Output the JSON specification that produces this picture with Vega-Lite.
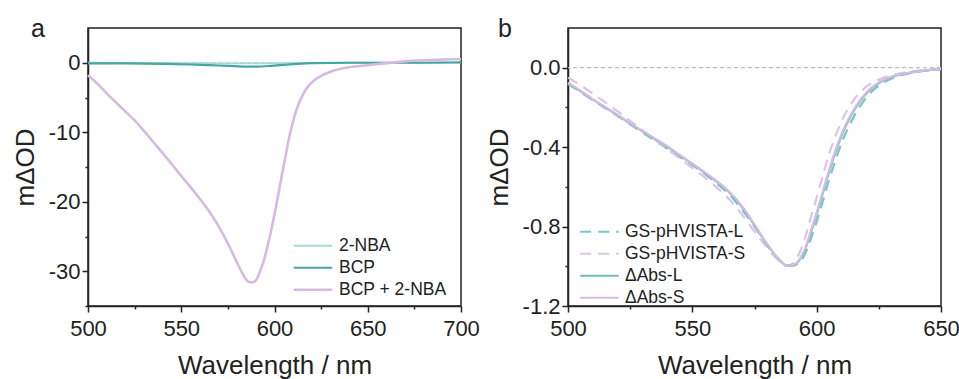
{
  "$schema": "https://vega.github.io/schema/vega-lite/v6.json",
  "background": "white",
  "padding": {"top": 16, "left": 11, "right": 0, "bottom": 0},
  "spacing": 107,
  "bounds": "flush",
  "resolve": {
    "scale": {"color": "independent", "strokeDash": "independent", "strokeWidth": "independent", "x": "independent", "y": "independent"},
    "legend": {"color": "independent", "strokeDash": "independent", "strokeWidth": "independent"}
  },
  "datasets": {
    "a": [
      {"series": "2-NBA", "wl": 500, "v": 0.0},
      {"series": "2-NBA", "wl": 530, "v": -0.02},
      {"series": "2-NBA", "wl": 550, "v": -0.05},
      {"series": "2-NBA", "wl": 570, "v": -0.1},
      {"series": "2-NBA", "wl": 590, "v": -0.1},
      {"series": "2-NBA", "wl": 610, "v": -0.05},
      {"series": "2-NBA", "wl": 640, "v": 0.0},
      {"series": "2-NBA", "wl": 670, "v": 0.02},
      {"series": "2-NBA", "wl": 700, "v": 0.05},
      {"series": "BCP", "wl": 500, "v": -0.1},
      {"series": "BCP", "wl": 520, "v": -0.1},
      {"series": "BCP", "wl": 540, "v": -0.15},
      {"series": "BCP", "wl": 555, "v": -0.25},
      {"series": "BCP", "wl": 565, "v": -0.35},
      {"series": "BCP", "wl": 575, "v": -0.45},
      {"series": "BCP", "wl": 585, "v": -0.55},
      {"series": "BCP", "wl": 590, "v": -0.55},
      {"series": "BCP", "wl": 598, "v": -0.45},
      {"series": "BCP", "wl": 605, "v": -0.3},
      {"series": "BCP", "wl": 612, "v": -0.15},
      {"series": "BCP", "wl": 620, "v": -0.05},
      {"series": "BCP", "wl": 640, "v": 0.0},
      {"series": "BCP", "wl": 660, "v": 0.0},
      {"series": "BCP", "wl": 680, "v": 0.0},
      {"series": "BCP", "wl": 700, "v": 0.05},
      {"series": "BCP + 2-NBA", "wl": 500, "v": -1.8},
      {"series": "BCP + 2-NBA", "wl": 505, "v": -3.0},
      {"series": "BCP + 2-NBA", "wl": 510, "v": -4.4},
      {"series": "BCP + 2-NBA", "wl": 515, "v": -5.7},
      {"series": "BCP + 2-NBA", "wl": 520, "v": -7.0},
      {"series": "BCP + 2-NBA", "wl": 525, "v": -8.3},
      {"series": "BCP + 2-NBA", "wl": 530, "v": -9.8},
      {"series": "BCP + 2-NBA", "wl": 535, "v": -11.4},
      {"series": "BCP + 2-NBA", "wl": 540, "v": -13.0},
      {"series": "BCP + 2-NBA", "wl": 545, "v": -14.6},
      {"series": "BCP + 2-NBA", "wl": 550, "v": -16.3},
      {"series": "BCP + 2-NBA", "wl": 555, "v": -17.9},
      {"series": "BCP + 2-NBA", "wl": 560, "v": -19.6},
      {"series": "BCP + 2-NBA", "wl": 565, "v": -21.4},
      {"series": "BCP + 2-NBA", "wl": 570, "v": -23.5},
      {"series": "BCP + 2-NBA", "wl": 575, "v": -26.0},
      {"series": "BCP + 2-NBA", "wl": 580, "v": -28.8},
      {"series": "BCP + 2-NBA", "wl": 583, "v": -30.4},
      {"series": "BCP + 2-NBA", "wl": 586, "v": -31.5},
      {"series": "BCP + 2-NBA", "wl": 588, "v": -31.6},
      {"series": "BCP + 2-NBA", "wl": 590, "v": -31.3},
      {"series": "BCP + 2-NBA", "wl": 592, "v": -30.2},
      {"series": "BCP + 2-NBA", "wl": 594, "v": -28.7},
      {"series": "BCP + 2-NBA", "wl": 596, "v": -26.7},
      {"series": "BCP + 2-NBA", "wl": 598, "v": -24.4},
      {"series": "BCP + 2-NBA", "wl": 600, "v": -21.8},
      {"series": "BCP + 2-NBA", "wl": 602, "v": -19.0},
      {"series": "BCP + 2-NBA", "wl": 604, "v": -16.1},
      {"series": "BCP + 2-NBA", "wl": 606, "v": -13.3},
      {"series": "BCP + 2-NBA", "wl": 608, "v": -10.6},
      {"series": "BCP + 2-NBA", "wl": 610, "v": -8.4},
      {"series": "BCP + 2-NBA", "wl": 612, "v": -6.6},
      {"series": "BCP + 2-NBA", "wl": 615, "v": -4.7},
      {"series": "BCP + 2-NBA", "wl": 618, "v": -3.4},
      {"series": "BCP + 2-NBA", "wl": 621, "v": -2.6},
      {"series": "BCP + 2-NBA", "wl": 625, "v": -1.9},
      {"series": "BCP + 2-NBA", "wl": 630, "v": -1.3},
      {"series": "BCP + 2-NBA", "wl": 635, "v": -0.9},
      {"series": "BCP + 2-NBA", "wl": 640, "v": -0.65},
      {"series": "BCP + 2-NBA", "wl": 650, "v": -0.35},
      {"series": "BCP + 2-NBA", "wl": 660, "v": -0.05},
      {"series": "BCP + 2-NBA", "wl": 670, "v": 0.2},
      {"series": "BCP + 2-NBA", "wl": 680, "v": 0.35},
      {"series": "BCP + 2-NBA", "wl": 690, "v": 0.45},
      {"series": "BCP + 2-NBA", "wl": 700, "v": 0.55}
    ],
    "b": [
      {"series": "GS-pHVISTA-L", "wl": 500, "v": -0.082},
      {"series": "GS-pHVISTA-L", "wl": 505, "v": -0.122},
      {"series": "GS-pHVISTA-L", "wl": 510, "v": -0.163},
      {"series": "GS-pHVISTA-L", "wl": 515, "v": -0.203},
      {"series": "GS-pHVISTA-L", "wl": 520, "v": -0.243},
      {"series": "GS-pHVISTA-L", "wl": 525, "v": -0.285},
      {"series": "GS-pHVISTA-L", "wl": 530, "v": -0.327},
      {"series": "GS-pHVISTA-L", "wl": 535, "v": -0.368},
      {"series": "GS-pHVISTA-L", "wl": 540, "v": -0.408},
      {"series": "GS-pHVISTA-L", "wl": 545, "v": -0.45},
      {"series": "GS-pHVISTA-L", "wl": 550, "v": -0.49},
      {"series": "GS-pHVISTA-L", "wl": 555, "v": -0.535},
      {"series": "GS-pHVISTA-L", "wl": 560, "v": -0.585},
      {"series": "GS-pHVISTA-L", "wl": 565, "v": -0.64},
      {"series": "GS-pHVISTA-L", "wl": 570, "v": -0.715},
      {"series": "GS-pHVISTA-L", "wl": 575, "v": -0.8},
      {"series": "GS-pHVISTA-L", "wl": 580, "v": -0.895},
      {"series": "GS-pHVISTA-L", "wl": 585, "v": -0.97},
      {"series": "GS-pHVISTA-L", "wl": 588, "v": -0.997},
      {"series": "GS-pHVISTA-L", "wl": 590, "v": -0.997},
      {"series": "GS-pHVISTA-L", "wl": 592, "v": -0.99},
      {"series": "GS-pHVISTA-L", "wl": 595, "v": -0.945},
      {"series": "GS-pHVISTA-L", "wl": 598, "v": -0.85},
      {"series": "GS-pHVISTA-L", "wl": 600, "v": -0.775},
      {"series": "GS-pHVISTA-L", "wl": 603, "v": -0.65},
      {"series": "GS-pHVISTA-L", "wl": 605, "v": -0.565},
      {"series": "GS-pHVISTA-L", "wl": 608, "v": -0.45},
      {"series": "GS-pHVISTA-L", "wl": 610, "v": -0.38},
      {"series": "GS-pHVISTA-L", "wl": 615, "v": -0.245},
      {"series": "GS-pHVISTA-L", "wl": 620, "v": -0.15},
      {"series": "GS-pHVISTA-L", "wl": 625, "v": -0.09},
      {"series": "GS-pHVISTA-L", "wl": 630, "v": -0.055},
      {"series": "GS-pHVISTA-L", "wl": 635, "v": -0.035},
      {"series": "GS-pHVISTA-L", "wl": 640, "v": -0.022},
      {"series": "GS-pHVISTA-L", "wl": 645, "v": -0.013},
      {"series": "GS-pHVISTA-L", "wl": 650, "v": -0.008},
      {"series": "GS-pHVISTA-S", "wl": 500, "v": -0.05},
      {"series": "GS-pHVISTA-S", "wl": 505, "v": -0.088},
      {"series": "GS-pHVISTA-S", "wl": 510, "v": -0.13},
      {"series": "GS-pHVISTA-S", "wl": 515, "v": -0.175},
      {"series": "GS-pHVISTA-S", "wl": 520, "v": -0.22},
      {"series": "GS-pHVISTA-S", "wl": 525, "v": -0.268},
      {"series": "GS-pHVISTA-S", "wl": 530, "v": -0.315},
      {"series": "GS-pHVISTA-S", "wl": 535, "v": -0.362},
      {"series": "GS-pHVISTA-S", "wl": 540, "v": -0.41},
      {"series": "GS-pHVISTA-S", "wl": 545, "v": -0.458},
      {"series": "GS-pHVISTA-S", "wl": 550, "v": -0.505},
      {"series": "GS-pHVISTA-S", "wl": 555, "v": -0.552},
      {"series": "GS-pHVISTA-S", "wl": 560, "v": -0.605},
      {"series": "GS-pHVISTA-S", "wl": 565, "v": -0.665},
      {"series": "GS-pHVISTA-S", "wl": 570, "v": -0.74},
      {"series": "GS-pHVISTA-S", "wl": 575, "v": -0.825},
      {"series": "GS-pHVISTA-S", "wl": 580, "v": -0.905},
      {"series": "GS-pHVISTA-S", "wl": 585, "v": -0.975},
      {"series": "GS-pHVISTA-S", "wl": 588, "v": -0.998},
      {"series": "GS-pHVISTA-S", "wl": 590, "v": -0.99},
      {"series": "GS-pHVISTA-S", "wl": 592, "v": -0.96},
      {"series": "GS-pHVISTA-S", "wl": 595, "v": -0.87},
      {"series": "GS-pHVISTA-S", "wl": 598, "v": -0.74},
      {"series": "GS-pHVISTA-S", "wl": 600, "v": -0.655},
      {"series": "GS-pHVISTA-S", "wl": 603, "v": -0.52},
      {"series": "GS-pHVISTA-S", "wl": 605, "v": -0.435},
      {"series": "GS-pHVISTA-S", "wl": 608, "v": -0.33},
      {"series": "GS-pHVISTA-S", "wl": 610, "v": -0.27},
      {"series": "GS-pHVISTA-S", "wl": 615, "v": -0.16},
      {"series": "GS-pHVISTA-S", "wl": 620, "v": -0.095},
      {"series": "GS-pHVISTA-S", "wl": 625, "v": -0.06},
      {"series": "GS-pHVISTA-S", "wl": 630, "v": -0.038},
      {"series": "GS-pHVISTA-S", "wl": 635, "v": -0.025},
      {"series": "GS-pHVISTA-S", "wl": 640, "v": -0.016},
      {"series": "GS-pHVISTA-S", "wl": 645, "v": -0.01},
      {"series": "GS-pHVISTA-S", "wl": 650, "v": -0.006},
      {"series": "ΔAbs-L", "wl": 500, "v": -0.078},
      {"series": "ΔAbs-L", "wl": 505, "v": -0.118},
      {"series": "ΔAbs-L", "wl": 510, "v": -0.16},
      {"series": "ΔAbs-L", "wl": 515, "v": -0.2},
      {"series": "ΔAbs-L", "wl": 520, "v": -0.24},
      {"series": "ΔAbs-L", "wl": 525, "v": -0.281},
      {"series": "ΔAbs-L", "wl": 530, "v": -0.321},
      {"series": "ΔAbs-L", "wl": 535, "v": -0.36},
      {"series": "ΔAbs-L", "wl": 540, "v": -0.399},
      {"series": "ΔAbs-L", "wl": 545, "v": -0.442},
      {"series": "ΔAbs-L", "wl": 550, "v": -0.485},
      {"series": "ΔAbs-L", "wl": 555, "v": -0.53},
      {"series": "ΔAbs-L", "wl": 560, "v": -0.576},
      {"series": "ΔAbs-L", "wl": 565, "v": -0.63},
      {"series": "ΔAbs-L", "wl": 570, "v": -0.702},
      {"series": "ΔAbs-L", "wl": 575, "v": -0.793},
      {"series": "ΔAbs-L", "wl": 580, "v": -0.888},
      {"series": "ΔAbs-L", "wl": 585, "v": -0.967},
      {"series": "ΔAbs-L", "wl": 588, "v": -0.996},
      {"series": "ΔAbs-L", "wl": 590, "v": -0.996},
      {"series": "ΔAbs-L", "wl": 592, "v": -0.984},
      {"series": "ΔAbs-L", "wl": 595, "v": -0.925},
      {"series": "ΔAbs-L", "wl": 598, "v": -0.818},
      {"series": "ΔAbs-L", "wl": 600, "v": -0.738},
      {"series": "ΔAbs-L", "wl": 603, "v": -0.61},
      {"series": "ΔAbs-L", "wl": 605, "v": -0.525},
      {"series": "ΔAbs-L", "wl": 608, "v": -0.41},
      {"series": "ΔAbs-L", "wl": 610, "v": -0.343},
      {"series": "ΔAbs-L", "wl": 615, "v": -0.216},
      {"series": "ΔAbs-L", "wl": 620, "v": -0.13},
      {"series": "ΔAbs-L", "wl": 625, "v": -0.078},
      {"series": "ΔAbs-L", "wl": 630, "v": -0.047},
      {"series": "ΔAbs-L", "wl": 635, "v": -0.031},
      {"series": "ΔAbs-L", "wl": 640, "v": -0.02},
      {"series": "ΔAbs-L", "wl": 645, "v": -0.012},
      {"series": "ΔAbs-L", "wl": 650, "v": -0.007},
      {"series": "ΔAbs-S", "wl": 500, "v": -0.075},
      {"series": "ΔAbs-S", "wl": 505, "v": -0.116},
      {"series": "ΔAbs-S", "wl": 510, "v": -0.159},
      {"series": "ΔAbs-S", "wl": 515, "v": -0.199},
      {"series": "ΔAbs-S", "wl": 520, "v": -0.238},
      {"series": "ΔAbs-S", "wl": 525, "v": -0.279},
      {"series": "ΔAbs-S", "wl": 530, "v": -0.319},
      {"series": "ΔAbs-S", "wl": 535, "v": -0.357},
      {"series": "ΔAbs-S", "wl": 540, "v": -0.396},
      {"series": "ΔAbs-S", "wl": 545, "v": -0.44},
      {"series": "ΔAbs-S", "wl": 550, "v": -0.483},
      {"series": "ΔAbs-S", "wl": 555, "v": -0.527},
      {"series": "ΔAbs-S", "wl": 560, "v": -0.573},
      {"series": "ΔAbs-S", "wl": 565, "v": -0.627},
      {"series": "ΔAbs-S", "wl": 570, "v": -0.698},
      {"series": "ΔAbs-S", "wl": 575, "v": -0.79},
      {"series": "ΔAbs-S", "wl": 580, "v": -0.886},
      {"series": "ΔAbs-S", "wl": 585, "v": -0.966},
      {"series": "ΔAbs-S", "wl": 588, "v": -0.996},
      {"series": "ΔAbs-S", "wl": 590, "v": -0.995},
      {"series": "ΔAbs-S", "wl": 592, "v": -0.982},
      {"series": "ΔAbs-S", "wl": 595, "v": -0.92},
      {"series": "ΔAbs-S", "wl": 598, "v": -0.81},
      {"series": "ΔAbs-S", "wl": 600, "v": -0.73},
      {"series": "ΔAbs-S", "wl": 603, "v": -0.6},
      {"series": "ΔAbs-S", "wl": 605, "v": -0.515},
      {"series": "ΔAbs-S", "wl": 608, "v": -0.4},
      {"series": "ΔAbs-S", "wl": 610, "v": -0.335},
      {"series": "ΔAbs-S", "wl": 615, "v": -0.21},
      {"series": "ΔAbs-S", "wl": 620, "v": -0.125},
      {"series": "ΔAbs-S", "wl": 625, "v": -0.075},
      {"series": "ΔAbs-S", "wl": 630, "v": -0.045},
      {"series": "ΔAbs-S", "wl": 635, "v": -0.03},
      {"series": "ΔAbs-S", "wl": 640, "v": -0.02},
      {"series": "ΔAbs-S", "wl": 645, "v": -0.012},
      {"series": "ΔAbs-S", "wl": 650, "v": -0.007}
    ]
  },
  "hconcat": [
    {
      "width": 373,
      "height": 278,
      "title": {"text": "a", "anchor": "start", "frame": "group", "dx": -57, "offset": -34, "baseline": "alphabetic", "fontSize": 25, "fontWeight": "normal", "font": "Liberation Sans", "color": "#222"},
      "layer": [
        {
          "data": {"values": [{"v": 0}]},
          "mark": {"type": "rule", "color": "#c8c8c8", "strokeDash": [4, 3], "strokeWidth": 1},
          "encoding": {"y": {"field": "v", "type": "quantitative", "scale": {"domain": [-35, 5], "nice": false, "zero": false}, "title": "mΔOD",
              "axis": {"values": [-35, -30, -25, -20, -15, -10, -5, 0], "labelExpr": "abs(datum.value) % 10 < 0.01 ? replace(datum.label, '−', '-') : ''", "tickSize": {"condition": {"test": "abs(datum.value) % 10 < 0.01", "value": 6}, "value": 3}}}}
        },
        {
          "data": {"name": "a"},
          "mark": {"type": "line", "interpolate": "monotone"},
          "encoding": {
            "x": {"field": "wl", "type": "quantitative", "scale": {"domain": [500, 700], "nice": false, "zero": false}, "title": "Wavelength / nm",
              "axis": {"values": [500, 525, 550, 575, 600, 625, 650, 675, 700], "labelExpr": "datum.value % 50 == 0 ? datum.label : ''", "tickSize": {"condition": {"test": "datum.value % 50 == 0", "value": 6}, "value": 3}}},
            "y": {"field": "v", "type": "quantitative", "scale": {"domain": [-35, 5], "nice": false, "zero": false}, "title": "mΔOD",
              "axis": {"values": [-35, -30, -25, -20, -15, -10, -5, 0], "labelExpr": "abs(datum.value) % 10 < 0.01 ? replace(datum.label, '−', '-') : ''", "tickSize": {"condition": {"test": "abs(datum.value) % 10 < 0.01", "value": 6}, "value": 3}}},
            "color": {"field": "series", "type": "nominal", "scale": {"domain": ["2-NBA", "BCP", "BCP + 2-NBA"], "range": ["#a6d9d7", "#46a6a1", "#d6bae2"]},
              "legend": {"title": null, "orient": "none", "legendX": 204, "legendY": 207}},
            "strokeWidth": {"field": "series", "type": "nominal", "scale": {"domain": ["2-NBA", "BCP", "BCP + 2-NBA"], "range": [1.8, 2.6, 2.3]}, "legend": {"title": null, "orient": "none", "legendX": 204, "legendY": 207}}
          }
        }
      ]
    },
    {
      "width": 373,
      "height": 278,
      "title": {"text": "b", "anchor": "start", "frame": "group", "dx": -70, "offset": -34, "baseline": "alphabetic", "fontSize": 25, "fontWeight": "normal", "font": "Liberation Sans", "color": "#222"},
      "layer": [
        {
          "data": {"values": [{"v": 0}]},
          "mark": {"type": "rule", "color": "#bdbdbd", "strokeDash": [4, 3], "strokeWidth": 1.2},
          "encoding": {"y": {"field": "v", "type": "quantitative", "scale": {"domain": [-1.2, 0.2], "nice": false, "zero": false}, "title": "mΔOD",
              "axis": {"values": [-1.2, -1.0, -0.8, -0.6, -0.4, -0.2, 0], "format": ".1f", "labelExpr": "abs(round(datum.value * 10)) % 4 == 0 ? replace(datum.label, '−', '-') : ''", "tickSize": {"condition": {"test": "abs(round(datum.value * 10)) % 4 == 0", "value": 6}, "value": 3}}}}
        },
        {
          "data": {"name": "b"},
          "mark": {"type": "line", "interpolate": "monotone", "strokeWidth": 2.2},
          "encoding": {
            "x": {"field": "wl", "type": "quantitative", "scale": {"domain": [500, 650], "nice": false, "zero": false}, "title": "Wavelength / nm",
              "axis": {"values": [500, 525, 550, 575, 600, 625, 650], "labelExpr": "datum.value % 50 == 0 ? datum.label : ''", "tickSize": {"condition": {"test": "datum.value % 50 == 0", "value": 6}, "value": 3}}},
            "y": {"field": "v", "type": "quantitative", "scale": {"domain": [-1.2, 0.2], "nice": false, "zero": false}, "title": "mΔOD",
              "axis": {"values": [-1.2, -1.0, -0.8, -0.6, -0.4, -0.2, 0], "format": ".1f", "labelExpr": "abs(round(datum.value * 10)) % 4 == 0 ? replace(datum.label, '−', '-') : ''", "tickSize": {"condition": {"test": "abs(round(datum.value * 10)) % 4 == 0", "value": 6}, "value": 3}}},
            "color": {"field": "series", "type": "nominal", "scale": {"domain": ["GS-pHVISTA-L", "GS-pHVISTA-S", "ΔAbs-L", "ΔAbs-S"], "range": ["#7cc6c2", "#dcc4e6", "#6fbdb8", "#d6bae2"]},
              "legend": {"title": null, "orient": "none", "legendX": 11, "legendY": 193}},
            "strokeDash": {"field": "series", "type": "nominal", "scale": {"domain": ["GS-pHVISTA-L", "GS-pHVISTA-S", "ΔAbs-L", "ΔAbs-S"], "range": [[11, 7], [11, 7], [1, 0], [1, 0]]},
              "legend": {"title": null, "orient": "none", "legendX": 11, "legendY": 193}}
          }
        }
      ]
    }
  ],
  "config": {
    "font": "Liberation Sans",
    "view": {"stroke": "#222", "strokeWidth": 1.5},
    "axis": {
      "grid": false,
      "labelFont": "Liberation Sans",
      "labelFontSize": 22,
      "labelColor": "#222",
      "labelOverlap": false,
      "labelFlush": false,
      "labelBound": false,
      "titleFont": "Liberation Sans",
      "titleFontSize": 26,
      "titleFontWeight": "normal",
      "titleColor": "#222",
      "domainColor": "#222",
      "domainWidth": 1.5,
      "tickColor": "#222",
      "tickWidth": 1.5
    },
    "axisX": {"titlePadding": 13, "labelPadding": 6},
    "axisY": {"titlePadding": 10, "labelPadding": 2},
    "legend": {
      "symbolType": "stroke",
      "symbolSize": 1480,
      "symbolStrokeWidth": 2.2,
      "labelFont": "Liberation Sans",
      "labelFontSize": 17.5,
      "labelColor": "#222",
      "labelOffset": 5,
      "rowPadding": 0,
      "clipHeight": 21.5,
      "padding": 0
    }
  }
}
